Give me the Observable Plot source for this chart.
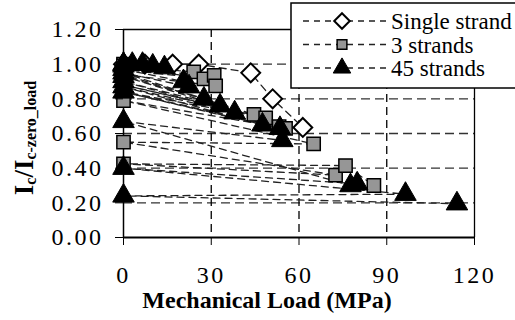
<!DOCTYPE html>
<html><head><meta charset="utf-8">
<script src="https://cdn.jsdelivr.net/npm/d3@7"></script>
<script src="https://cdn.jsdelivr.net/npm/@observablehq/plot@0.6"></script>
<style>
body{margin:0;background:#fff;}
#chart{position:relative;width:515px;height:320px;}
</style>
</head><body><div id="chart"></div>
<script>
// ---- data ----
const xTicks = [0, 30, 60, 90, 120];
const yTicks = [0, 0.2, 0.4, 0.6, 0.8, 1.0, 1.2];
const gridX = [30, 60, 90];
const gridY = [0.2, 0.4, 0.6, 0.8, 1.0];
const seriesNames = ["Single strand", "3 strands", "45 strands"];
const xLabel = "Mechanical Load (MPa)";

const singleLoad = [0, 7.3, 16.8, 25.7, 43.5, 51, 61.3];
const singleIc   = [1.0, 1.0, 1.0, 1.0, 0.95, 0.80, 0.635];

const threeLoad = [0, 24, 0, 27.5, 0, 31, 31.5, 0, 44.6, 0, 48.6, 0, 53.2, 55.4, 0, 65, 0, 72.5, 0, 75.9, 85.6];
const threeIc   = [1.0, 0.955, 0.99, 0.915, 0.97, 0.935, 0.875, 0.94, 0.71, 0.88, 0.69, 0.84, 0.64, 0.63, 0.79, 0.54, 0.55, 0.36, 0.425, 0.415, 0.30];

const fortyLoad = [0, 3, 6.5, 0, 10, 0, 14, 0, 20.5, 22.4, 0, 27.5, 0, 33, 0, 38, 0, 47.5, 0, 53.5, 54.3, 0, 77.6, 79.9, 0, 96.4, 0, 114];
const fortyIc   = [1.0, 1.0, 1.0, 1.0, 0.99, 0.99, 0.98, 0.97, 0.90, 0.87, 0.95, 0.80, 0.93, 0.76, 0.90, 0.72, 0.87, 0.65, 0.84, 0.63, 0.56, 0.67, 0.30, 0.31, 0.40, 0.25, 0.24, 0.195];

function rows(name, xs, ys) { return xs.map((x, i) => ({series: name, load: x, ic: ys[i]})); }
const single = rows(seriesNames[0], singleLoad, singleIc);
const three = rows(seriesNames[1], threeLoad, threeIc);
const forty = rows(seriesNames[2], fortyLoad, fortyIc);
const all = [...single, ...three, ...forty];

const serif = '"Liberation Serif", "Times New Roman", Times, serif';

const plot = Plot.plot({
  width: 515, height: 320,
  marginLeft: 123, marginRight: 41, marginTop: 29, marginBottom: 83,
  x: {domain: [0, 120]},
  y: {domain: [0, 1.2]},
  style: {fontSize: "24px", background: "white", color: "black", overflow: "visible"},
  marks: [
    Plot.ruleY(gridY, {stroke: "#333", strokeDasharray: "9,5", strokeWidth: 1.3}),
    Plot.ruleX(gridX, {stroke: "#000", strokeDasharray: "8,5", strokeWidth: 1.3}),
    Plot.ruleY([1.2], {stroke: "#000", strokeWidth: 1.3}),
    Plot.ruleX([120], {stroke: "#000", strokeWidth: 1.3}),
    Plot.ruleX([0], {stroke: "#000", strokeWidth: 1.5}),
    Plot.line(all, {x: "load", y: "ic", z: "series", stroke: "#222", strokeDasharray: "7,5", strokeWidth: 1.3}),
    Plot.dot(single, {x: "load", y: "ic", symbol: "diamond2", r: 8.5, fill: "white", stroke: "black", strokeWidth: 2}),
    Plot.dot(three, {x: "load", y: "ic", symbol: "square", r: 7.5, fill: "#969696", stroke: "black", strokeWidth: 1.5}),
    Plot.dot(forty, {x: "load", y: "ic", symbol: "triangle", r: 8, fill: "black", stroke: "black", strokeWidth: 1}),
    Plot.ruleY([0], {stroke: "#000", strokeWidth: 2}),
    Plot.axisX({ticks: xTicks, tickSize: 8, tickPadding: 20, label: null, tickFormat: d => String(d)}),
    Plot.axisY({ticks: yTicks, tickSize: 8, tickPadding: 12, label: null, tickFormat: d => d.toFixed(2)}),
    Plot.text([xLabel], {frameAnchor: "bottom", dy: 70, dx: -32, fontWeight: "bold", fontSize: 24, text: d => d})
  ]
});
document.getElementById("chart").appendChild(plot);

// ---- y-axis title with subscripts ----
const svg = d3.select(plot);
const yt = svg.append("text")
  .attr("transform", "translate(33,138) rotate(-90)")
  .attr("text-anchor", "middle")
  .attr("font-weight", "bold").attr("fill", "black");
yt.append("tspan").attr("font-size", 27).text("I");
yt.append("tspan").attr("font-size", 16).attr("dy", 3).text("c");
yt.append("tspan").attr("font-size", 27).attr("dy", -3).text("/I");
yt.append("tspan").attr("font-size", 16).attr("dy", 3).text("c-zero_load");

// ---- legend (inside plot, top-right) ----
const lg = svg.append("g");
lg.append("rect").attr("x", 291).attr("y", 3).attr("width", 240).attr("height", 85)
  .attr("fill", "white").attr("stroke", "black").attr("stroke-width", 1.5);
const sym = {
  [seriesNames[0]]: {type: d3.symbolDiamond2, r: 7, fill: "white", stroke: "black", sw: 2},
  [seriesNames[1]]: {type: d3.symbolSquare, r: 5.5, fill: "#969696", stroke: "black", sw: 1.5},
  [seriesNames[2]]: {type: d3.symbolTriangle, r: 6.5, fill: "black", stroke: "black", sw: 1}
};
seriesNames.forEach((name, i) => {
  const cy = 21 + i * 23.5;
  lg.append("line").attr("x1", 303).attr("x2", 387).attr("y1", cy).attr("y2", cy)
    .attr("stroke", "#222").attr("stroke-width", 1.3).attr("stroke-dasharray", "6,5");
  const s = sym[name];
  lg.append("path").attr("d", d3.symbol(s.type, Math.PI * s.r * s.r)())
    .attr("transform", `translate(342,${cy})`)
    .attr("fill", s.fill).attr("stroke", s.stroke).attr("stroke-width", s.sw);
  lg.append("text").attr("x", 391).attr("y", cy).attr("dy", "0.35em")
    .attr("text-anchor", "start")
    .attr("font-size", 23).attr("fill", "black").text(name);
});

// serif face everywhere; wider tick digits like the reference
svg.style("font-family", serif);
svg.selectAll("g").style("font-family", serif);
svg.selectAll("text, tspan").style("font-family", serif);
svg.selectAll("[aria-label='x-axis tick label'] text, [aria-label='y-axis tick label'] text")
  .style("letter-spacing", "2.5px");
</script>
</body></html>
